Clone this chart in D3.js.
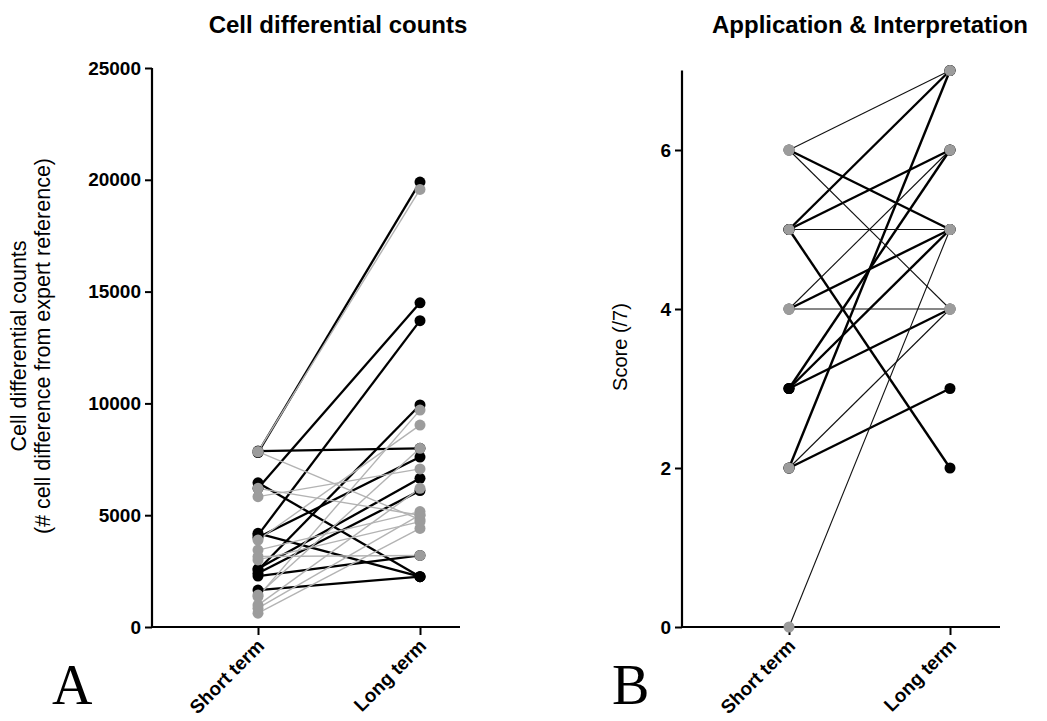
<!DOCTYPE html>
<html>
<head>
<meta charset="utf-8">
<script src="https://cdn.jsdelivr.net/npm/d3@7"></script>
<style>
  html, body { margin: 0; padding: 0; background: #fff; }
  svg { display: block; font-family: "Liberation Sans", Arial, sans-serif; }
</style>
</head>
<body>
<svg id="chart" width="1047" height="721"></svg>
<script>
// ---------------- DATA ----------------
const categories = ["Short term", "Long term"];

// Panel A: cell differential counts (black / thick group)
const cellBlackShort = [7800, 7870, 6200, 6450, 4110, 4190, 2550, 2280, 1650, 4000, 2600, 2400];
const cellBlackLong  = [19900, 7990, 14500, 2250, 13700, 2250, 9930, 3200, 2250, 7600, 6650, 6100];
// Panel A: grey / thin group
const cellGreyShort = [7840, 7840, 5830, 6200, 3890, 3440, 3000, 1360, 980, 620, 3150, 1430, 840];
const cellGreyLong  = [19570, 4800, 7070, 5000, 9030, 5160, 4710, 9700, 6200, 4410, 3200, 7990, 5010];
const cellTicks = [0, 5000, 10000, 15000, 20000, 25000];

// Panel B: application & interpretation score (thick group)
const scoreThickShort = [6, 5, 5, 5, 4, 3, 3, 3, 2, 2];
const scoreThickLong  = [5, 7, 6, 2, 5, 6, 5, 4, 7, 3];
// Panel B: thin group
const scoreThinShort = [6, 6, 5, 4, 4, 2, 0];
const scoreThinLong  = [7, 4, 5, 6, 4, 4, 5];
const scoreTicks = [0, 2, 4, 6];

// ---------------- DRAW ----------------
const svg = d3.select("#chart");
const FONT = "'Liberation Sans', Arial, sans-serif";

function pairs(s, l) { return s.map((v, i) => [v, l[i]]); }

function panel(opt) {
  const g = svg.append("g");
  const x = d3.scalePoint().domain(categories).range([opt.xShort, opt.xLong]);
  const y = d3.scaleLinear().domain(opt.yDomain).range([opt.yBottom, opt.yTop]);

  // y axis
  const ya = g.append("g").attr("transform", `translate(${opt.x0},0)`)
    .call(d3.axisLeft(y).tickValues(opt.ticks).tickFormat(d3.format("d")).tickSize(7).tickSizeOuter(0).tickPadding(4));
  ya.select(".domain").attr("stroke-width", 2.2).attr("d", `M0,${opt.yBottom}V${y(opt.yDomain[1])}`);
  ya.selectAll(".tick line").attr("stroke-width", 2);
  ya.selectAll(".tick text").attr("font-family", FONT).attr("font-size", 19).attr("font-weight", "bold").attr("fill", "#000");

  // x axis
  const xa = g.append("g").attr("transform", `translate(0,${opt.yBottom})`)
    .call(d3.axisBottom(x).tickSize(8).tickSizeOuter(0));
  xa.select(".domain").attr("stroke-width", 2.2).attr("d", `M${opt.x0 - 1},0H${opt.xEnd}`);
  xa.selectAll(".tick line").attr("stroke-width", 2);
  xa.selectAll(".tick text")
    .attr("font-family", FONT).attr("font-size", 19).attr("font-weight", "bold").attr("fill", "#000")
    .attr("text-anchor", "end").attr("dy", null).attr("y", 0)
    .attr("transform", "translate(7,20) rotate(-45)");

  // lines and points
  opt.series.forEach(s => {
    const data = pairs(s.short, s.long);
    g.append("g").selectAll("line").data(data).join("line")
      .attr("x1", x(categories[0])).attr("x2", x(categories[1]))
      .attr("y1", d => y(d[0])).attr("y2", d => y(d[1]))
      .attr("stroke", s.lineColor).attr("stroke-width", s.lineWidth);
  });
  opt.series.forEach(s => {
    const data = pairs(s.short, s.long);
    const pts = [];
    data.forEach(d => { pts.push([categories[0], d[0]]); pts.push([categories[1], d[1]]); });
    g.append("g").selectAll("circle").data(pts).join("circle")
      .attr("cx", d => x(d[0])).attr("cy", d => y(d[1])).attr("r", 5.5)
      .attr("fill", s.pointColor);
  });

  // title
  g.append("text").attr("x", opt.titleX).attr("y", 33).attr("text-anchor", "middle")
    .attr("font-family", FONT).attr("font-size", 24).attr("font-weight", "bold").text(opt.title);

  // y title
  opt.yTitle.forEach((t, i) => {
    g.append("text")
      .attr("transform", `translate(${opt.yTitleX + i * 24},${opt.yTitleY}) rotate(-90)`)
      .attr("text-anchor", "middle").attr("font-family", FONT).attr("font-size", opt.yTitleSize)
      .text(t);
  });

  // panel letter
  g.append("text").attr("x", opt.letterX).attr("y", 704)
    .attr("font-family", "'Liberation Serif', 'Times New Roman', serif").attr("font-size", 56)
    .text(opt.letter);
}

panel({
  x0: 152, xEnd: 460, xShort: 258, xLong: 420,
  yDomain: [0, 25000], yBottom: 627, yTop: 68, ticks: cellTicks,
  title: "Cell differential counts", titleX: 338,
  yTitle: ["Cell differential counts", "(# cell difference from expert reference)"],
  yTitleX: 26, yTitleY: 346, yTitleSize: 21.5,
  letter: "A", letterX: 52,
  series: [
    { short: cellBlackShort, long: cellBlackLong, lineColor: "#000", lineWidth: 2.3, pointColor: "#000" },
    { short: cellGreyShort, long: cellGreyLong, lineColor: "#b3b3b3", lineWidth: 1.4, pointColor: "#9c9c9c" }
  ]
});

panel({
  x0: 682, xEnd: 1000, xShort: 789, xLong: 950,
  yDomain: [0, 7], yBottom: 627, yTop: 70.5, ticks: scoreTicks,
  title: "Application & Interpretation", titleX: 870,
  yTitle: ["Score (/7)"],
  yTitleX: 627, yTitleY: 347, yTitleSize: 20,
  letter: "B", letterX: 612,
  series: [
    { short: scoreThickShort, long: scoreThickLong, lineColor: "#000", lineWidth: 2.4, pointColor: "#000" },
    { short: scoreThinShort, long: scoreThinLong, lineColor: "#111", lineWidth: 1.1, pointColor: "#9c9c9c" }
  ]
});
</script>
</body>
</html>
